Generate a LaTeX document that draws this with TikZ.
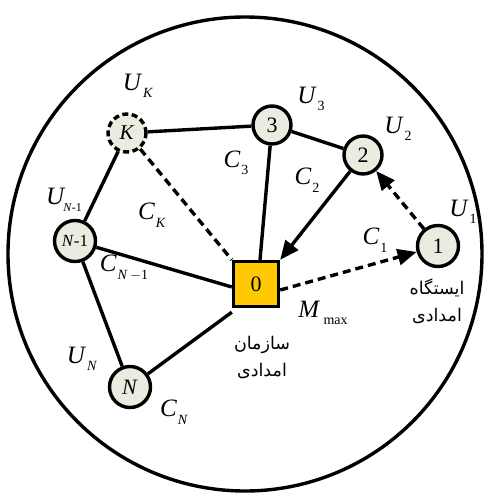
\documentclass[tikz,border=0pt]{standalone}
\usepackage{fontspec}
\setmainfont{Liberation Serif}
\newfontfamily\arabicfont[Script=Arabic]{DejaVu Sans}
\TeXXeTstate=1
\usetikzlibrary{arrows.meta}
\definecolor{nodefill}{HTML}{E9EDDF}
\definecolor{sqfill}{HTML}{FFC800}
\newcommand\subl[2]{\textit{#1}\kern1pt\raisebox{-0.3em}{\fontsize{14}{14}\selectfont #2}}
\begin{document}
\begin{tikzpicture}[x=1pt,y=-1pt,
  vtx/.style={circle,draw,line width=3.4pt,fill=nodefill,minimum size=38pt,inner sep=0pt,font=\fontsize{22}{22}\selectfont},
  lbl/.style={font=\fontsize{25}{25}\selectfont,inner sep=0pt},
  fa/.style={font=\arabicfont\fontsize{17.5}{27}\selectfont,align=center,inner sep=0pt},
  edge/.style={line width=3.4pt},
  dedge/.style={line width=3.4pt,dash pattern=on 8pt off 5pt},
  tip/.style={-{Triangle[length=19pt,width=16pt]}}]
\useasboundingbox (0,0) rectangle (490,493);
\draw[line width=3.4pt] (245,254) circle[radius=237];
\node[vtx,dash pattern=on 6pt off 3.5pt,font=\fontsize{21}{21}\selectfont] (K) at (127,133) {\textit{K}};
\node[vtx] (n3) at (272,125) {3};
\node[vtx] (n2) at (363,155) {2};
\node[vtx,minimum size=41pt] (n1) at (438,246) {1};
\node[vtx,minimum size=41pt,font=\fontsize{17}{17}\selectfont] (nm1) at (75,241) {\textit{N}-1};
\node[vtx,minimum size=41pt] (nN) at (130,387) {\textit{N}};
\node[draw,line width=3.4pt,fill=sqfill,minimum size=45pt,inner sep=0pt,font=\fontsize{22}{22}\selectfont] (sq) at (256,284) {0};
\draw[edge] (K) -- (n3);
\draw[edge] (K) -- (nm1);
\draw[dedge] (K) -- (sq.north west);
\draw[edge] (n3) -- ([xshift=4pt]sq.north);
\draw[edge] (n3) -- (n2);
\draw[edge,tip] (n2) -- (sq.north east);
\draw[dedge,tip] (n1) -- (n2);
\draw[dedge,tip] ([yshift=-6pt]sq.east) -- (n1);
\draw[edge] (nm1) -- ([yshift=-3pt]sq.west);
\draw[edge] (nm1) -- (nN);
\draw[edge] (nN) -- ([yshift=-4pt]sq.south west);
\node[lbl] (lUK) at (138,86) {\subl{U}{\textit{K}}};
\node[lbl] (lU3) at (311,99) {\subl{U}{3}};
\node[lbl] (lU2) at (398,129) {\subl{U}{2}};
\node[lbl] (lU1) at (463,212) {\subl{U}{1}};
\node[lbl] (lUN1) at (64,200) {\textit{U}\kern-2pt\raisebox{-0.3em}{\fontsize{12}{12}\selectfont\textit{N}-1}};
\node[lbl] (lCK) at (152,215) {\subl{C}{\textit{K}}};
\node[lbl] (lC3) at (236,163) {\subl{C}{3}};
\node[lbl] (lC2) at (307,180) {\subl{C}{2}};
\node[lbl] (lC1) at (375,240) {\subl{C}{1}};
\node[lbl] (lCN1) at (124,268) {\subl{C}{\textit{N}\,\(-\)1}};
\node[lbl] (lM) at (323,313) {\subl{M}{\,max}};
\node[lbl] (lUN) at (82,359) {\subl{U}{\textit{N}}};
\node[lbl] (lCN) at (174,412) {\subl{C}{\textit{N}}};
\node[fa] (t0) at (262,357) {\beginR سازمان\endR\\\beginR امدادی\endR};
\node[fa] (t1) at (437,301) {\beginR ایستگاه\endR\\\beginR امدادی\endR};
\end{tikzpicture}
\end{document}
